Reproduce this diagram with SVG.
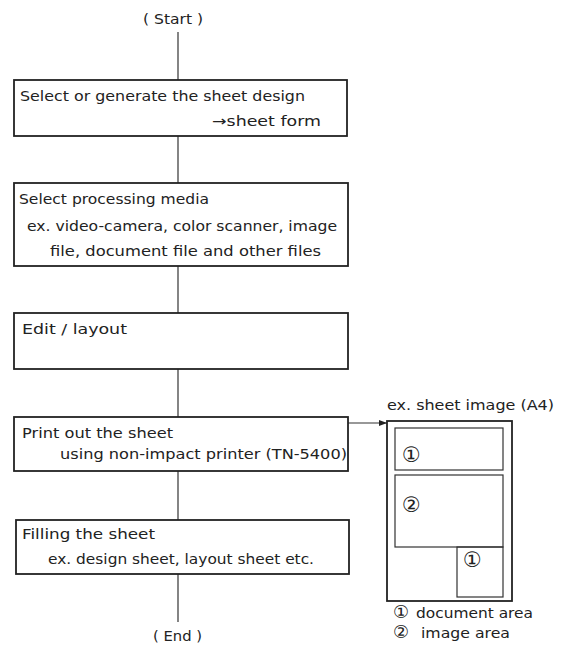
<svg xmlns="http://www.w3.org/2000/svg" width="566" height="646" viewBox="0 0 566 646">
<defs>
<style>
text{font-family:"DejaVu Sans","Liberation Sans","Noto Sans CJK JP",sans-serif;font-size:14px;fill:#222;}
.box{fill:none;stroke:#222;stroke-width:1.8;}
.ln{fill:none;stroke:#333;stroke-width:1.2;}
.cn{font-size:21px;}
.cl{font-size:18px;}
</style>
<marker id="ah" markerWidth="8" markerHeight="6" refX="8" refY="3" orient="auto" markerUnits="userSpaceOnUse">
<path d="M0,0 L8,3 L0,6 Z" fill="#222"/>
</marker>
</defs>
<rect width="566" height="646" fill="#fff"/>
<g id="connectors">
<line class="ln" x1="178" y1="32" x2="178" y2="80"/>
<line class="ln" x1="178" y1="136" x2="178" y2="183"/>
<line class="ln" x1="178" y1="266" x2="178" y2="313"/>
<line class="ln" x1="178" y1="369" x2="178" y2="417"/>
<line class="ln" x1="178" y1="471" x2="178" y2="520"/>
<line class="ln" x1="178" y1="574" x2="178" y2="622"/>
<line class="ln" x1="348" y1="423" x2="387" y2="423" marker-end="url(#ah)"/>
</g>
<g id="start"><text x="143" y="24" textLength="60" lengthAdjust="spacingAndGlyphs">( Start )</text></g>
<g id="step1">
<rect class="box" x="14" y="80" width="333" height="56"/>
<text x="20" y="101" textLength="285" lengthAdjust="spacingAndGlyphs">Select or generate the sheet design</text>
<text x="212" y="126" textLength="109" lengthAdjust="spacingAndGlyphs">→sheet  form</text>
</g>
<g id="step2">
<rect class="box" x="14" y="183" width="334" height="83"/>
<text x="19" y="204" textLength="190" lengthAdjust="spacingAndGlyphs">Select processing media</text>
<text x="27" y="231" textLength="310" lengthAdjust="spacingAndGlyphs">ex. video-camera, color scanner, image</text>
<text x="50" y="256" textLength="271" lengthAdjust="spacingAndGlyphs">file, document file and other files</text>
</g>
<g id="step3">
<rect class="box" x="14" y="313" width="334" height="56"/>
<text x="22" y="334" textLength="105" lengthAdjust="spacingAndGlyphs">Edit / layout</text>
</g>
<g id="step4">
<rect class="box" x="14" y="417" width="334" height="54"/>
<text x="22" y="438" textLength="151" lengthAdjust="spacingAndGlyphs">Print out the sheet</text>
<text x="60" y="459" textLength="287" lengthAdjust="spacingAndGlyphs">using non-impact printer (TN-5400)</text>
</g>
<g id="step5">
<rect class="box" x="16" y="520" width="333" height="54"/>
<text x="22" y="539" textLength="133" lengthAdjust="spacingAndGlyphs">Filling the sheet</text>
<text x="48" y="564" textLength="266" lengthAdjust="spacingAndGlyphs">ex. design sheet, layout sheet etc.</text>
</g>
<g id="end"><text x="153" y="641" textLength="49" lengthAdjust="spacingAndGlyphs">( End )</text></g>
<g id="sheet">
<text x="387" y="410" textLength="167" lengthAdjust="spacingAndGlyphs">ex. sheet image (A4)</text>
<rect class="box" x="387" y="421" width="125" height="180"/>
<rect class="ln" x="395" y="428" width="108" height="42"/>
<rect class="ln" x="395" y="475" width="108" height="72"/>
<rect class="ln" x="457" y="547" width="46" height="50"/>
<text class="cn" x="402" y="462">①</text>
<text class="cn" x="402" y="512">②</text>
<text class="cn" x="463" y="567">①</text>
<text x="393" y="618"><tspan class="cl">①</tspan><tspan x="416" textLength="117" lengthAdjust="spacingAndGlyphs">document  area</tspan></text>
<text x="393" y="638"><tspan class="cl">②</tspan><tspan x="421" textLength="89" lengthAdjust="spacingAndGlyphs">image  area</tspan></text>
</g>
</svg>
